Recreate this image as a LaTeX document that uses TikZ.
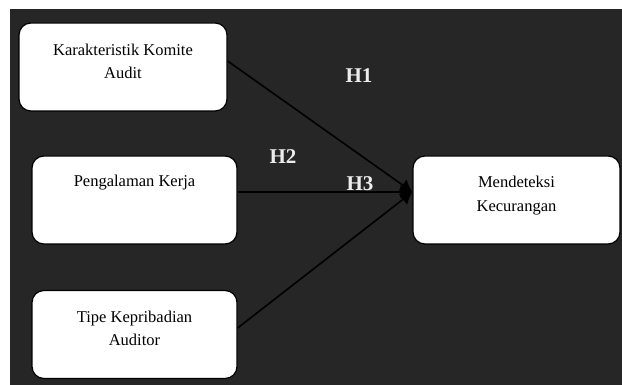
\documentclass[tikz,border=0pt]{standalone}
\usepackage{fontspec}
\setmainfont{Liberation Serif}
\usetikzlibrary{arrows.meta}
\definecolor{bgdark}{HTML}{262626}
\definecolor{hlabel}{HTML}{EDEDED}
\tikzset{
  varbox/.style={draw=black, line width=1.2pt, fill=white, rounded corners=12pt,
    minimum width=#1, minimum height=88pt, inner sep=0pt},
  boxtext/.style={align=center, inner sep=0pt, text=black,
    font=\fontsize{16.5}{23.5}\selectfont},
  hyp/.style={text=hlabel, inner sep=0pt, font=\fontsize{21}{24}\selectfont\bfseries},
  conn/.style={draw=black, line width=1.6pt, -{Latex[length=12pt,width=14pt]}}
}
\begin{document}
\begin{tikzpicture}[x=1pt,y=-1pt]
\useasboundingbox (0,0) rectangle (622,385);
\fill[white] (0,0) rectangle (622,385);
\fill[bgdark] (9.5,9.5) rectangle (622,385);
% boxes
\node[varbox=208pt] (b1) at (123,67) {};
\node[varbox=205pt] (b2) at (134.5,200) {};
\node[varbox=205pt] (b3) at (134.5,334.5) {};
\node[varbox=207pt] (b4) at (516.5,200) {};
% box texts
\node[boxtext] (t1) at (123,61.5) {Karakteristik Komite\\Audit};
\node[boxtext] (t2) at (134.5,183) {Pengalaman Kerja};
\node[boxtext] (t3) at (134.5,328.5) {Tipe Kepribadian\\Auditor};
\node[boxtext] (t4) at (516.5,195.5) {Mendeteksi\\Kecurangan};
% connectors
\coordinate (tip) at ([yshift=8pt]b4.west);
\draw[conn] ([yshift=6pt]b1.east) -- (tip);
\draw[conn] ([yshift=8pt]b2.east) -- (tip);
\draw[conn] ([yshift=6.5pt]b3.east) -- (tip);
% hypothesis labels
\node[hyp] (h1) at (359,76) {H1};
\node[hyp] (h2) at (283,157) {H2};
\node[hyp] (h3) at (360,184) {H3};
\end{tikzpicture}
\end{document}
